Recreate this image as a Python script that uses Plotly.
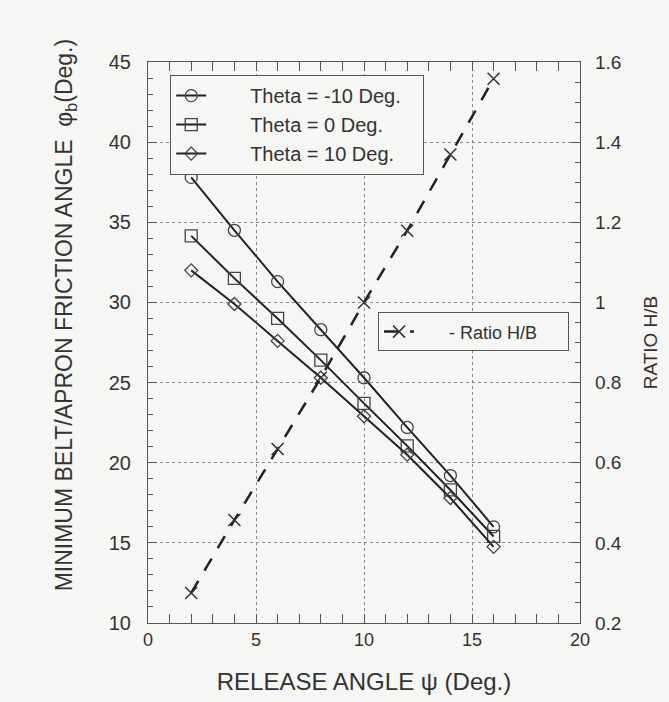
import plotly.graph_objects as go

release_angle = [2, 4, 6, 8, 10, 12, 14, 16]
theta_m10 = [37.8, 34.5, 31.3, 28.3, 25.3, 22.2, 19.2, 16.0]
theta_0 = [34.15, 31.5, 29.0, 26.4, 23.7, 21.05, 18.3, 15.4]
theta_10 = [32.0, 29.9, 27.6, 25.3, 22.9, 20.5, 17.8, 14.75]
ratio_hb = [0.275, 0.457, 0.634, 0.812, 1.0, 1.179, 1.369, 1.558]
legend_names = ["Theta = -10 Deg.", "Theta = 0 Deg.", "Theta = 10 Deg."]

FONT = "Liberation Sans, Arial, sans-serif"
INK = "#222222"
TXT = "#333333"
BG = "#f6f6f4"
NB = "\u00a0"

fig = go.Figure()
series = [
    (legend_names[0], theta_m10, "circle-open", 12),
    (legend_names[1], theta_0, "square-open", 12),
    (legend_names[2], theta_10, "diamond-open", 10),
]
for name, ys, sym, sz in series:
    fig.add_trace(go.Scatter(
        x=release_angle, y=ys, name=NB * 7 + name + NB * 3, mode="lines+markers",
        line=dict(color=INK, width=2),
        marker=dict(symbol=sym, size=sz, color="#444444", line=dict(width=1.3, color="#444444")),
        legend="legend",
    ))

fig.add_trace(go.Scatter(
    x=release_angle, y=ratio_hb, name=NB * 6 + "- Ratio H/B" + NB * 5, mode="lines+markers",
    line=dict(color=INK, width=2.5, dash="14px,12px"),
    marker=dict(symbol="x-thin", size=12, color=INK, line=dict(width=1.5, color="#333333")),
    yaxis="y2", legend="legend2",
))

grid = dict(showgrid=True, gridcolor="#8a8a8a", griddash="dot", gridwidth=1)

fig.update_layout(
    width=669, height=702,
    margin=dict(l=148, r=89, t=62, b=79),
    paper_bgcolor=BG, plot_bgcolor=BG,
    font=dict(family=FONT, color=TXT),
    xaxis=dict(
        range=[0, 20], tickvals=[0, 5, 10, 15, 20], ticks="inside", ticklen=9,
        tickcolor="#555555", showline=True, linecolor="#555555", linewidth=1.2,
        mirror="allticks", tickfont=dict(family=FONT, size=18, color=TXT), zeroline=False,
        minor=dict(dtick=1, ticks="inside", ticklen=5, tickcolor="#555555", showgrid=False),
        title=dict(text="RELEASE ANGLE ψ (Deg.)", font=dict(family=FONT, size=24, color=TXT), standoff=24),
        **grid,
    ),
    yaxis=dict(
        range=[10, 45], tickvals=[10, 15, 20, 25, 30, 35, 40, 45], ticks="inside", ticklen=9,
        tickcolor="#555555", showline=True, linecolor="#555555", linewidth=1.2,
        tickfont=dict(family=FONT, size=20, color=TXT), zeroline=False, ticklabelstandoff=12,
        minor=dict(dtick=1, ticks="inside", ticklen=5, tickcolor="#555555", showgrid=False),
        **grid,
    ),
    yaxis2=dict(
        overlaying="y", side="right", range=[0.2, 1.6],
        tickvals=[0.2, 0.4, 0.6, 0.8, 1.0, 1.2, 1.4, 1.6], ticktext=["0.2", "0.4", "0.6", "0.8", "1", "1.2", "1.4", "1.6"],
        ticks="inside", ticklen=9, tickcolor="#555555", showline=True, linecolor="#555555", linewidth=1.2,
        tickfont=dict(family=FONT, size=19, color=TXT), showgrid=False, zeroline=False, ticklabelstandoff=10,
        minor=dict(dtick=0.05, ticks="inside", ticklen=5, tickcolor="#555555"),
        title=dict(text="RATIO H/B", font=dict(family=FONT, size=19, color=TXT), standoff=22),
    ),
    legend=dict(
        x=0.051, y=0.977, xanchor="left", yanchor="top",
        bgcolor=BG, bordercolor="#555555", borderwidth=1.2,
        font=dict(family=FONT, size=20, color=TXT),
        tracegroupgap=0,
    ),
    legend2=dict(
        x=0.532, y=0.554, xanchor="left", yanchor="top",
        bgcolor=BG, bordercolor="#555555", borderwidth=1.2,
        font=dict(family=FONT, size=18, color=TXT),
    ),
    annotations=[dict(
        text="MINIMUM BELT/APRON FRICTION ANGLE  φ<sub>b</sub>(Deg.)",
        xref="paper", yref="paper", x=-0.19, y=0.55, xanchor="center", yanchor="middle",
        textangle=-90, showarrow=False, font=dict(family=FONT, size=23, color=TXT),
    )],
)

fig.write_html("out.html")
